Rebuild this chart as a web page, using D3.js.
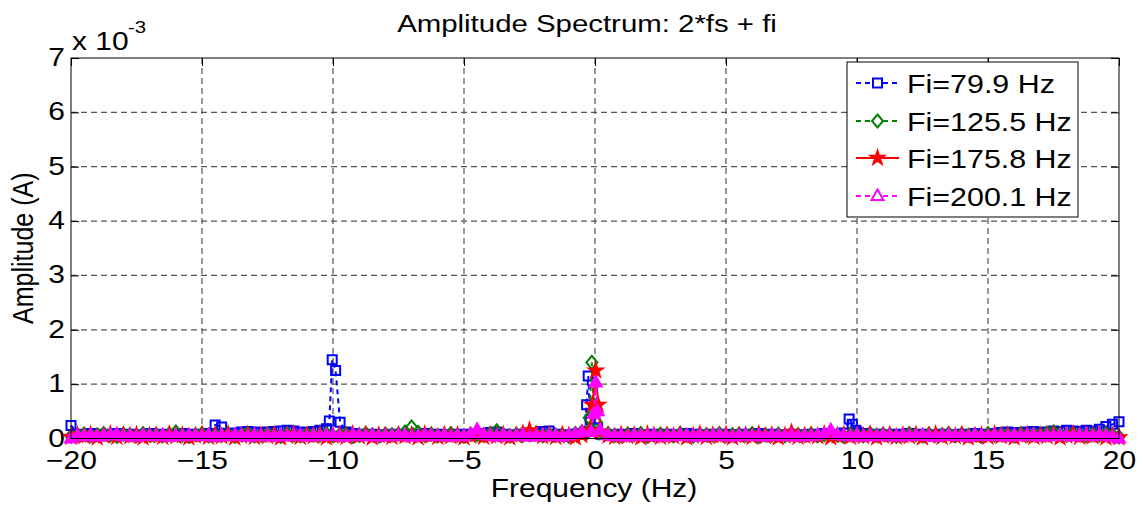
<!DOCTYPE html>
<html>
<head>
<meta charset="utf-8">
<script src="https://cdn.jsdelivr.net/npm/d3@7"></script>
<style>
  html, body { margin: 0; padding: 0; background: #fff; }
  svg { display: block; font-family: "Liberation Sans", Arial, sans-serif; }
</style>
</head>
<body>
<div id="chart"></div>
<script>
// amplitudes are in units of 1e-3 A (axis shows "x 10^-3")
const xTicks = [-20, -15, -10, -5, 0, 5, 10, 15, 20];
const yTicks = [0, 1, 2, 3, 4, 5, 6, 7];

const seriesNames = ["Fi=79.9 Hz", "Fi=125.5 Hz", "Fi=175.8 Hz", "Fi=200.1 Hz"];

// spectrum floor, one value per 0.25 Hz bin from -20 Hz to 20 Hz (null = bin covered by a peak below)
const binStart = -20, binStep = 0.25;

const floor79 = [
  0.24, 0.08, 0.07, 0.09, 0.08, 0.06, 0.08, 0.09, 0.07, 0.08,
  0.06, 0.07, 0.09, 0.08, 0.07, 0.08, 0.06, 0.09, 0.08, 0.07,
  0.08, 0.09, 0.25, 0.21, 0.09, 0.10, 0.12, 0.13, 0.12, 0.11,
  0.12, 0.13, 0.14, 0.15, 0.14, 0.12, 0.11, 0.13, 0.15, 0.18,
  null, null, 0.12, 0.09, 0.08, 0.07, 0.08, 0.06, 0.07, 0.08,
  0.07, 0.06, 0.08, 0.07, 0.09, 0.07, 0.08, 0.06, 0.07, 0.08,
  0.07, 0.08, 0.06, 0.09, 0.11, 0.12, 0.08, 0.07, 0.06, 0.08,
  0.07, 0.09, 0.13, 0.14, 0.08, 0.07, 0.06, 0.08, 0.09, null,
  null, 0.08, 0.07, 0.06, 0.08, 0.07, 0.09, 0.07, 0.06, 0.08,
  0.07, 0.08, 0.06, 0.07, 0.09, 0.08, 0.07, 0.06, 0.08, 0.07,
  0.08, 0.07, 0.06, 0.08, 0.07, 0.09, 0.07, 0.08, 0.06, 0.07,
  0.08, 0.07, 0.06, 0.08, 0.07, 0.09, 0.08, 0.07, 0.10, null,
  0.12, 0.09, 0.07, 0.08, 0.06, 0.07, 0.08, 0.07, 0.09, 0.07,
  0.08, 0.06, 0.07, 0.08, 0.07, 0.06, 0.08, 0.07, 0.09, 0.08,
  0.07, 0.09, 0.11, 0.12, 0.11, 0.10, 0.12, 0.13, 0.11, 0.12,
  0.14, 0.13, 0.15, 0.14, 0.13, 0.15, 0.14, 0.17, 0.22, 0.26,
  0.31
];
const peaks79 = [
  [-10.14, 0.32], [-10.03, 1.45], [-9.9, 1.25], [-9.73, 0.30],
  [-0.4, 0.12], [-0.32, 0.62], [-0.26, 1.15], [-0.18, 0.35], [0.1, 0.2],
  [9.7, 0.36], [9.82, 0.26], [9.95, 0.15]
];

const floor125 = [
  0.04, 0.06, 0.08, 0.05, 0.07, 0.09, 0.06, 0.04, 0.08, 0.07,
  0.05, 0.09, 0.06, 0.07, 0.05, 0.08, 0.12, 0.06, 0.04, 0.07,
  0.09, 0.05, 0.07, 0.06, 0.08, 0.04, 0.07, 0.09, 0.05, 0.06,
  0.08, 0.07, 0.04, 0.09, 0.06, 0.05, 0.08, 0.07, 0.06, 0.09,
  0.05, 0.07, 0.08, 0.04, 0.06, 0.09, 0.07, 0.05, 0.08, 0.07,
  0.08, 0.12, 0.21, 0.11, 0.06, 0.08, 0.05, 0.07, 0.09, 0.06,
  0.04, 0.08, 0.07, 0.06, 0.09, 0.14, 0.07, 0.05, 0.08, 0.06,
  0.07, 0.09, 0.05, 0.08, 0.06, 0.07, 0.04, 0.09, 0.12, null,
  null, null, 0.09, 0.06, 0.05, 0.08, 0.07, 0.09, 0.04, 0.06,
  0.08, 0.07, 0.05, 0.09, 0.06, 0.04, 0.08, 0.07, 0.06, 0.09,
  0.05, 0.07, 0.08, 0.06, 0.09, 0.04, 0.07, 0.06, 0.08, 0.05,
  0.09, 0.07, 0.06, 0.08, 0.05, 0.07, 0.09, 0.06, 0.04, 0.08,
  0.07, 0.05, 0.09, 0.06, 0.08, 0.07, 0.04, 0.06, 0.09, 0.07,
  0.05, 0.08, 0.06, 0.07, 0.09, 0.05, 0.08, 0.06, 0.07, 0.04,
  0.09, 0.06, 0.08, 0.07, 0.05, 0.09, 0.06, 0.08, 0.07, 0.10,
  0.12, 0.08, 0.06, 0.09, 0.07, 0.05, 0.08, 0.06, 0.09, 0.07,
  0.03
];
const peaks125 = [
  [-0.32, 0.1], [-0.22, 0.38], [-0.12, 1.40], [-0.05, 0.62], [0.06, 0.3], [0.15, 0.1]
];

const floor175 = [
  0.03, 0.06, 0.04, 0.07, 0.02, 0.05, 0.08, 0.03, 0.06, 0.04,
  0.07, 0.02, 0.05, 0.06, 0.03, 0.08, 0.04, 0.06, 0.02, 0.05,
  0.07, 0.03, 0.06, 0.04, 0.08, 0.02, 0.05, 0.07, 0.03, 0.06,
  0.04, 0.07, 0.02, 0.05, 0.08, 0.03, 0.06, 0.04, 0.07, 0.02,
  0.05, 0.06, 0.03, 0.08, 0.04, 0.07, 0.02, 0.06, 0.05, 0.03,
  0.07, 0.04, 0.06, 0.02, 0.08, 0.05, 0.03, 0.07, 0.04, 0.06,
  0.02, 0.05, 0.08, 0.03, 0.06, 0.04, 0.07, 0.02, 0.05, 0.09,
  0.15, 0.08, 0.04, 0.06, 0.03, 0.07, 0.05, 0.02, 0.06, null,
  null, null, 0.05, 0.03, 0.07, 0.04, 0.06, 0.02, 0.08, 0.05,
  0.03, 0.06, 0.04, 0.07, 0.02, 0.05, 0.08, 0.03, 0.06, 0.04,
  0.07, 0.02, 0.05, 0.06, 0.03, 0.08, 0.04, 0.06, 0.02, 0.05,
  0.11, 0.03, 0.05, 0.06, 0.04, 0.08, 0.02, 0.05, 0.07, 0.03,
  0.06, 0.04, 0.08, 0.02, 0.05, 0.07, 0.03, 0.06, 0.04, 0.07,
  0.02, 0.05, 0.08, 0.03, 0.06, 0.04, 0.07, 0.02, 0.05, 0.06,
  0.03, 0.08, 0.04, 0.06, 0.02, 0.05, 0.07, 0.03, 0.06, 0.04,
  0.07, 0.02, 0.05, 0.08, 0.03, 0.06, 0.04, 0.07, 0.02, 0.05,
  0.02
];
const peaks175 = [
  [-0.2, 0.15], [-0.1, 0.62], [0.03, 1.25], [0.12, 0.62], [0.22, 0.12]
];

const floor200 = [
  0.00, 0.05, 0.04, 0.06, 0.03, 0.05, 0.06, 0.08, 0.04, 0.05,
  0.03, 0.06, 0.05, 0.04, 0.06, 0.03, 0.05, 0.04, 0.06, 0.05,
  0.04, 0.06, 0.03, 0.05, 0.04, 0.06, 0.05, 0.03, 0.06, 0.04,
  0.05, 0.03, 0.06, 0.04, 0.05, 0.06, 0.03, 0.05, 0.04, 0.06,
  0.05, 0.04, 0.03, 0.06, 0.05, 0.04, 0.06, 0.03, 0.05, 0.04,
  0.06, 0.05, 0.03, 0.04, 0.06, 0.05, 0.04, 0.06, 0.03, 0.05,
  0.04, 0.08, 0.16, 0.07, 0.05, 0.03, 0.06, 0.04, 0.05, 0.06,
  0.03, 0.05, 0.04, 0.06, 0.05, 0.03, 0.06, 0.08, 0.12, null,
  null, null, 0.06, 0.04, 0.05, 0.03, 0.06, 0.05, 0.04, 0.06,
  0.03, 0.05, 0.04, 0.06, 0.05, 0.03, 0.06, 0.04, 0.05, 0.06,
  0.04, 0.03, 0.05, 0.06, 0.04, 0.05, 0.03, 0.06, 0.05, 0.04,
  0.06, 0.03, 0.05, 0.04, 0.06, 0.08, 0.15, 0.07, 0.05, 0.04,
  0.06, 0.03, 0.05, 0.04, 0.06, 0.05, 0.03, 0.06, 0.04, 0.05,
  0.06, 0.04, 0.03, 0.05, 0.06, 0.04, 0.05, 0.03, 0.06, 0.05,
  0.04, 0.06, 0.05, 0.03, 0.06, 0.04, 0.05, 0.06, 0.03, 0.05,
  0.04, 0.06, 0.05, 0.03, 0.06, 0.05, 0.04, 0.06, 0.05, 0.03,
  0.00
];
const peaks200 = [
  [-0.15, 0.12], [-0.05, 0.45], [0.03, 1.03], [0.1, 0.5], [0.2, 0.15]
];

const W = 1143, H = 507;
const plot = { left: 71, right: 1119, top: 58, bottom: 438.5 };
const SX = 1.2; // text in the picture is stretched sideways

const svg = d3.select("#chart").append("svg")
    .attr("width", W)
    .attr("height", H);

const x = d3.scaleLinear().domain([-20, 20]).range([plot.left, plot.right]);
const y = d3.scaleLinear().domain([0, 7]).range([plot.bottom, plot.top]);

function buildSeries(floor, peaks) {
    const pts = [];
    floor.forEach((v, i) => {
        if (v != null) pts.push({ f: binStart + i * binStep, a: v });
    });
    peaks.forEach(([f, a]) => pts.push({ f, a }));
    pts.sort((p, q) => p.f - q.f);
    return pts;
}

// marker shapes
const markerPath = {
    square: "M-4.5,-4.5H4.5V4.5H-4.5Z",
    diamond: "M0,-6.5L5.5,0L0,6.5L-5.5,0Z",
    triangle: "M0,-6.5L6,4L-6,4Z",
    star: d3.symbol(d3.symbolStar, 55)()
};

// plotFill: how the dense markers look inside the axes (they merge into a solid band)
const series = [
    { name: seriesNames[0], data: buildSeries(floor79, peaks79), color: "#0000ff", dash: "5,4", marker: "square", plotFill: "none", legendFill: "#fff" },
    { name: seriesNames[1], data: buildSeries(floor125, peaks125), color: "#008000", dash: "5,4", marker: "diamond", plotFill: "none", legendFill: "#fff" },
    { name: seriesNames[2], data: buildSeries(floor175, peaks175), color: "#ff0000", dash: null, marker: "star", plotFill: "#ff0000", legendFill: "#ff0000" },
    { name: seriesNames[3], data: buildSeries(floor200, peaks200), color: "#ff00ff", dash: "5,4", marker: "triangle", plotFill: "#ff00ff", legendFill: "#fff" }
];

function stretchedText(g, tx, ty, size, str, anchor) {
    return g.append("text")
        .attr("transform", `translate(${tx},${ty}) scale(${SX},1)`)
        .attr("font-size", size)
        .attr("text-anchor", anchor || "start")
        .attr("fill", "#000")
        .text(str);
}

// grid
const grid = svg.append("g")
    .attr("stroke", "#555")
    .attr("stroke-width", 1.2)
    .attr("stroke-dasharray", "6,4");

grid.selectAll("line.vx")
    .data(xTicks.slice(1, -1))
    .enter().append("line")
    .attr("x1", d => x(d)).attr("x2", d => x(d))
    .attr("y1", plot.top).attr("y2", plot.bottom);

grid.selectAll("line.hy")
    .data(yTicks.slice(1, -1))
    .enter().append("line")
    .attr("x1", plot.left).attr("x2", plot.right)
    .attr("y1", d => y(d)).attr("y2", d => y(d));

// axes (ticks point inward)
const axisBottom = svg.append("g")
    .attr("transform", `translate(0,${plot.bottom})`)
    .call(d3.axisBottom(x).tickValues(xTicks).tickSize(-8).tickFormat(d3.format("d")));
const axisLeft = svg.append("g")
    .attr("transform", `translate(${plot.left},0)`)
    .call(d3.axisLeft(y).tickValues(yTicks).tickSize(-8).tickFormat(d3.format("d")));
svg.append("g")
    .attr("transform", `translate(0,${plot.top})`)
    .call(d3.axisTop(x).tickValues(xTicks).tickSize(-8).tickFormat(""));
svg.append("g")
    .attr("transform", `translate(${plot.right},0)`)
    .call(d3.axisRight(y).tickValues(yTicks).tickSize(-8).tickFormat(""));

svg.selectAll(".domain").remove();
svg.selectAll(".tick line").attr("stroke", "#000").attr("stroke-width", 1);

axisBottom.selectAll("text")
    .attr("font-size", 25)
    .attr("fill", "#000")
    .attr("y", 31)
    .attr("dy", null)
    .attr("transform", `scale(${SX},1)`);

axisLeft.selectAll("text")
    .attr("font-size", 25)
    .attr("fill", "#000")
    .attr("x", -6 / SX)
    .attr("dy", "0.3em")
    .attr("transform", `scale(${SX},1)`);

svg.selectAll(".tick text").attr("font-family", "Liberation Sans, Arial, sans-serif");

// series
const line = d3.line()
    .x(d => x(d.f))
    .y(d => y(d.a));

series.forEach(s => {
    const g = svg.append("g");
    g.append("path")
        .datum(s.data)
        .attr("fill", "none")
        .attr("stroke", s.color)
        .attr("stroke-width", 2)
        .attr("stroke-dasharray", s.dash)
        .attr("d", line);

    g.selectAll("path.mk")
        .data(s.data)
        .enter().append("path")
        .attr("class", "mk")
        .attr("d", markerPath[s.marker])
        .attr("transform", d => `translate(${x(d.f)},${y(d.a)})`)
        .attr("fill", s.plotFill)
        .attr("stroke", s.color)
        .attr("stroke-width", 2);
});

// axes box
svg.append("rect")
    .attr("x", plot.left)
    .attr("y", plot.top)
    .attr("width", plot.right - plot.left)
    .attr("height", plot.bottom - plot.top)
    .attr("fill", "none")
    .attr("stroke", "#000")
    .attr("stroke-width", 1);

// exponent label
stretchedText(svg, 72, 50, 25, "x 10");
stretchedText(svg, 128, 33, 17, "-3");

// title and axis labels
stretchedText(svg, 587, 32, 24.5, "Amplitude Spectrum: 2*fs + fi", "middle");
stretchedText(svg, 594, 497, 25, "Frequency (Hz)", "middle");

svg.append("text")
    .attr("transform", `translate(33,${(plot.top + plot.bottom) / 2}) scale(${SX},1) rotate(-90)`)
    .attr("font-size", 25)
    .attr("text-anchor", "middle")
    .text("Amplitude (A)");

// legend
const legend = svg.append("g");
legend.append("rect")
    .attr("x", 847)
    .attr("y", 62)
    .attr("width", 231)
    .attr("height", 155)
    .attr("fill", "#fff")
    .attr("stroke", "#000")
    .attr("stroke-width", 1);

const legendRowY = [83, 121, 158, 196];

series.forEach((s, i) => {
    const ly = legendRowY[i];
    legend.append("line")
        .attr("x1", 856).attr("x2", 899)
        .attr("y1", ly).attr("y2", ly)
        .attr("stroke", s.color)
        .attr("stroke-width", 2)
        .attr("stroke-dasharray", s.dash);
    legend.append("path")
        .attr("d", markerPath[s.marker])
        .attr("transform", `translate(877.5,${ly})`)
        .attr("fill", s.legendFill)
        .attr("stroke", s.color)
        .attr("stroke-width", 2);
    legend.append("text")
        .attr("transform", `translate(907,${ly + 9.5}) scale(1.17,1)`)
        .attr("font-size", 26)
        .attr("fill", "#000")
        .text(s.name);
});
</script>
</body>
</html>
